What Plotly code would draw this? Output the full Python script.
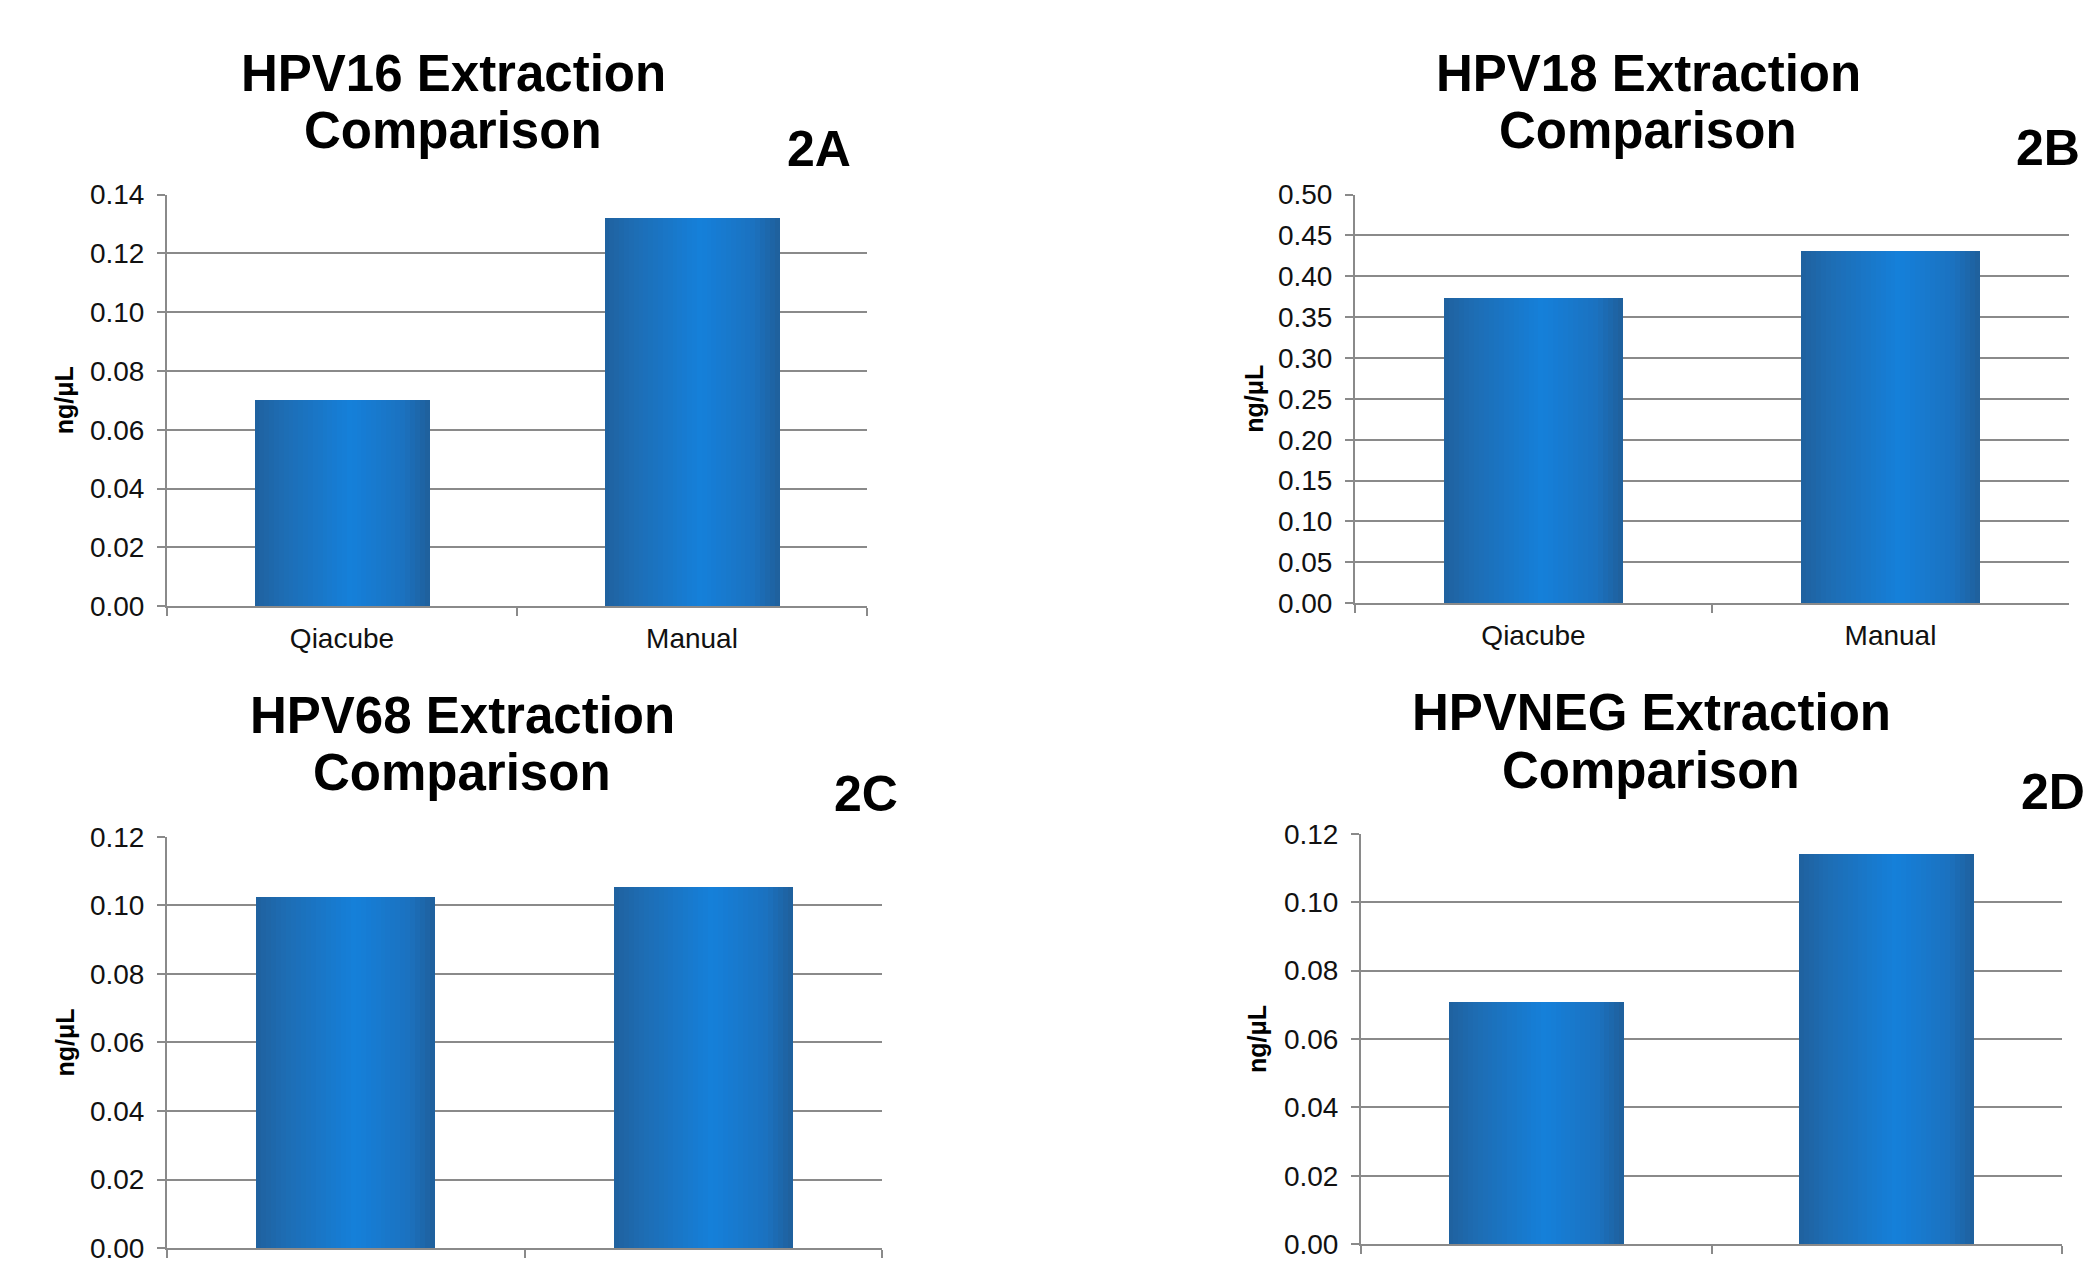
import plotly.graph_objects as go

# ---- data -------------------------------------------------------------
categories = ["Qiacube", "Manual"]
hpv16 = [0.0703, 0.1321]
hpv18 = [0.374, 0.432]
hpv68 = [0.1024, 0.1055]
hpvneg = [0.0709, 0.1142]

titles = ["HPV16 Extraction", "HPV18 Extraction", "HPV68 Extraction", "HPVNEG Extraction"]
subtitle = "Comparison"
panel_tags = ["2A", "2B", "2C", "2D"]
y_title = "ng/μL"
y_max = [0.14, 0.50, 0.12, 0.12]
y_step = [0.02, 0.05, 0.02, 0.02]

# ---- page geometry (pixels) -------------------------------------------
W, H = 2087, 1272
FONT = "Liberation Sans, Arial, sans-serif"
GRID = "#8a8a8a"

# the page shows the figure slightly compressed vertically; lay out on screen
# coordinates and convert them into figure coordinates
V_SCALE, V_SHIFT = 0.977, 14.1


def fy(y_screen):
    return (y_screen - V_SHIFT) / V_SCALE


# plot boxes on screen: left, right, top, bottom
boxes = [
    (167, 867, 194, 606),
    (1355, 2069, 194, 603),
    (167, 882, 837, 1249),
    (1361, 2062, 834, 1245),
]
# title line centres (x, y line1, y line2), tag centres (x, y), y title x
title_pos = [(453, 73, 130), (1648, 73, 130), (462, 716, 773), (1651, 713, 771)]
tag_pos = [(819, 148), (2048, 147), (866, 794), (2053, 792)]
ytitle_x = [64, 1254, 65, 1257]

series = [hpv16, hpv18, hpv68, hpvneg]

# horizontal gradient of the bar fill
stops = [
    (0.00, (31, 97, 158)),
    (0.15, (30, 108, 178)),
    (0.55, (21, 128, 218)),
    (0.85, (27, 114, 192)),
    (1.00, (31, 95, 154)),
]


def grad(t):
    for (t0, c0), (t1, c1) in zip(stops[:-1], stops[1:]):
        if t0 <= t <= t1:
            f = (t - t0) / (t1 - t0)
            return "rgb(%d,%d,%d)" % tuple(round(a + (b - a) * f) for a, b in zip(c0, c1))
    return "rgb(%d,%d,%d)" % stops[-1][1]


BAR_W = 0.5
N_STRIPS = 36
TICK_FONT = dict(family=FONT, size=28, color="#111111")

fig = go.Figure()
annotations = []
layout = {}

for i, vals in enumerate(series):
    n = i + 1
    xa = "x" if n == 1 else "x%d" % n
    ya = "y" if n == 1 else "y%d" % n
    l, r, t, b = boxes[i]
    t, b = fy(t), fy(b)
    bottom_row = i >= 2

    # bars built as thin side-by-side strips to shade the fill
    sw = BAR_W / N_STRIPS
    for k in range(N_STRIPS):
        fig.add_trace(go.Bar(
            x=categories, y=vals, xaxis=xa, yaxis=ya,
            width=sw * 1.02, offset=-BAR_W / 2 + k * sw,
            marker=dict(color=grad((k + 0.5) / N_STRIPS), line=dict(width=0)),
            showlegend=False, hoverinfo="skip",
        ))

    xkey = "xaxis" if n == 1 else "xaxis%d" % n
    ykey = "yaxis" if n == 1 else "yaxis%d" % n
    layout[xkey] = dict(
        domain=[l / W, r / W], anchor=ya, type="category",
        range=[-0.5, 1.5], showgrid=False, zeroline=False,
        showline=True, linecolor=GRID, linewidth=2,
        ticks="outside", tickson="boundaries", ticklen=8, tickwidth=2, tickcolor=GRID,
        tickfont=TICK_FONT, ticklabelstandoff=6, fixedrange=True,
        # the lower row's category names fall past the bottom page edge
        showticklabels=not bottom_row,
    )
    layout[ykey] = dict(
        domain=[max(0.0, 1 - b / H), 1 - t / H], anchor=xa,
        range=[0, y_max[i]], dtick=y_step[i], tick0=0, tickformat=".2f",
        showgrid=True, gridcolor=GRID, gridwidth=2, zeroline=False,
        showline=True, linecolor=GRID, linewidth=2,
        ticks="outside", ticklen=8, tickwidth=2, tickcolor=GRID,
        tickfont=TICK_FONT, ticklabelstandoff=7, fixedrange=True,
    )

    tx, ty1, ty2 = title_pos[i]
    for txt, yy in ((titles[i], ty1), (subtitle, ty2)):
        annotations.append(dict(
            text="<b>%s</b>" % txt, xref="paper", yref="paper",
            x=tx / W, y=1 - fy(yy) / H, xanchor="center", yanchor="middle",
            showarrow=False, font=dict(family=FONT, size=51, color="#000000"),
        ))
    gx, gy = tag_pos[i]
    annotations.append(dict(
        text="<b>%s</b>" % panel_tags[i], xref="paper", yref="paper",
        x=gx / W, y=1 - fy(gy) / H, xanchor="center", yanchor="middle",
        showarrow=False, font=dict(family=FONT, size=50, color="#000000"),
    ))
    annotations.append(dict(
        text="<b>%s</b>" % y_title, xref="paper", yref="paper",
        x=ytitle_x[i] / W, y=1 - (t + b) / 2 / H, xanchor="center", yanchor="middle",
        textangle=-90, showarrow=False,
        font=dict(family=FONT, size=25, color="#000000"),
    ))

fig.update_layout(
    width=W, height=H, margin=dict(l=0, r=0, t=0, b=0),
    paper_bgcolor="white", plot_bgcolor="white",
    barmode="overlay", bargap=0,
    annotations=annotations, **layout,
)

fig.write_html("out.html", config={"displayModeBar": False})
